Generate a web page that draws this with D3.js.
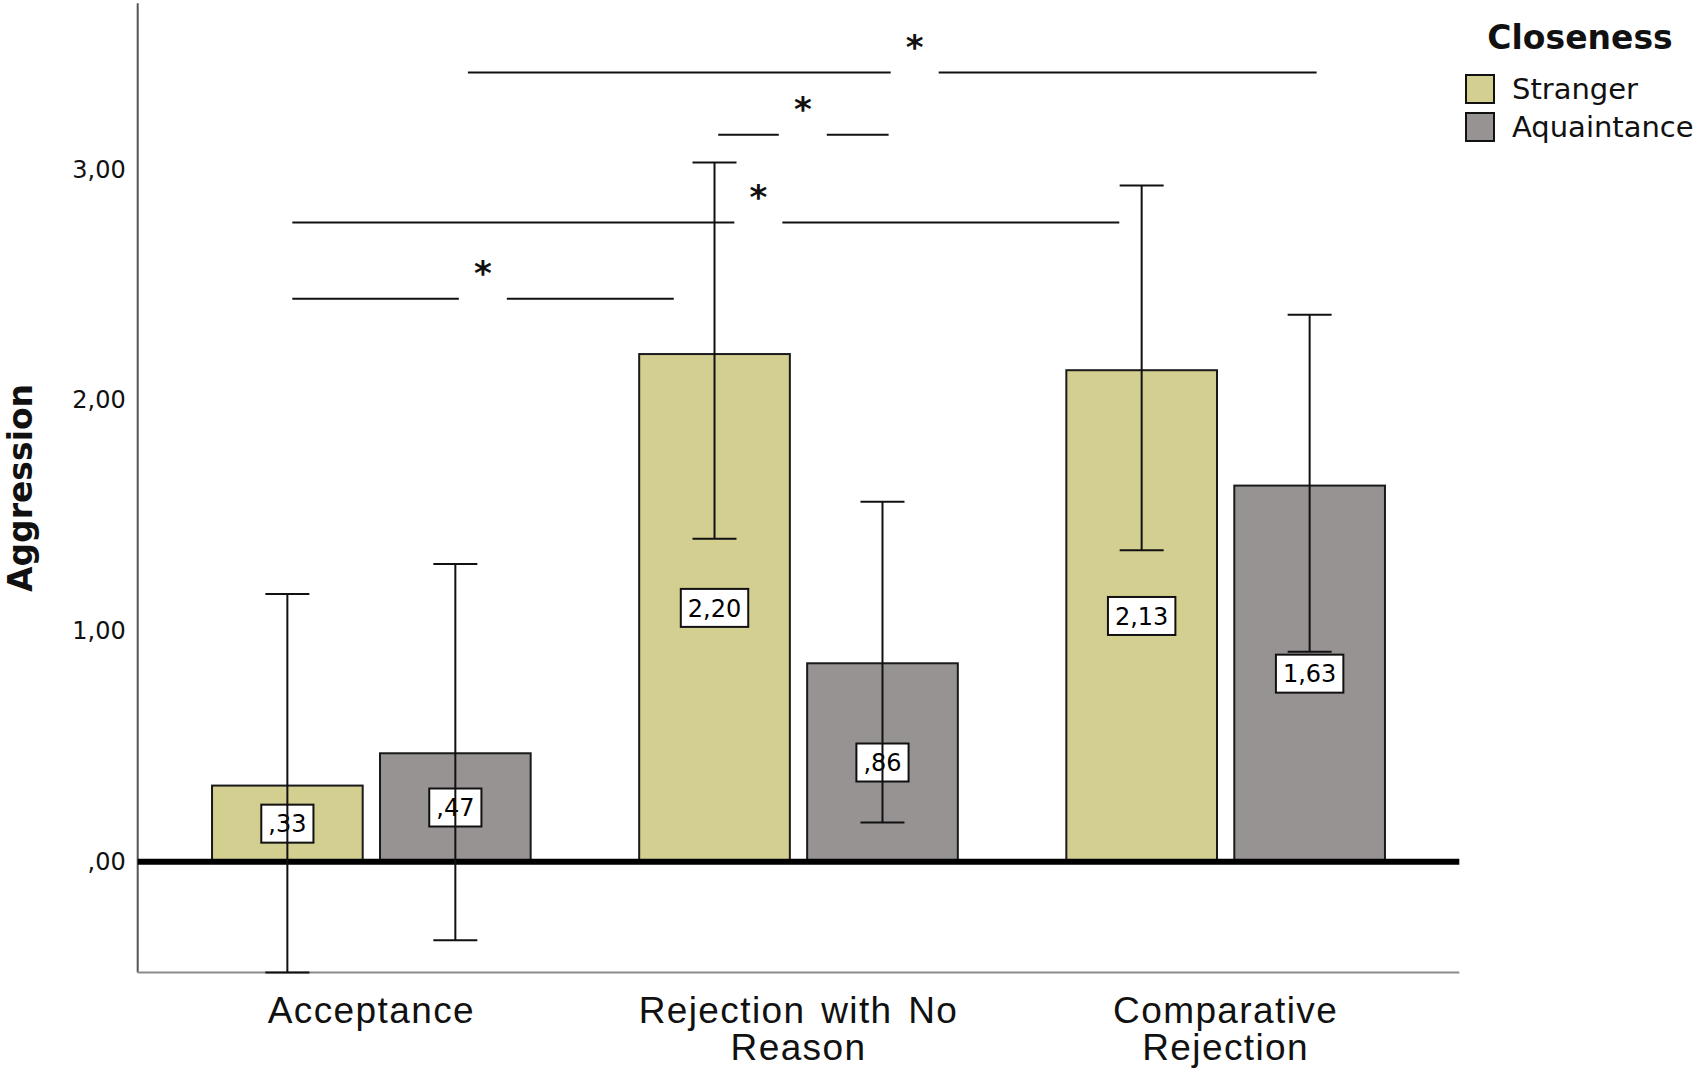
<!DOCTYPE html>
<html>
<head>
<meta charset="utf-8">
<script src="https://cdn.jsdelivr.net/npm/d3@7"></script>
<style>
  html, body { margin: 0; padding: 0; background: #fff; }
  svg { display: block; font-family: "DejaVu Sans", sans-serif; }
</style>
</head>
<body>
<svg id="chart" width="1700" height="1074"></svg>
<script>
// ---- data ----
const categories = ["Acceptance", "Rejection with No Reason", "Comparative Rejection"];
const categoryLines = [["Acceptance"], ["Rejection with No", "Reason"], ["Comparative", "Rejection"]];
const series = ["Stranger", "Aquaintance"];
const strangerMeans = [0.33, 2.20, 2.13];
const aquaintanceMeans = [0.47, 0.86, 1.63];
const strangerLow = [-0.48, 1.40, 1.35];
const strangerHigh = [1.16, 3.03, 2.93];
const aquaintanceLow = [-0.34, 0.17, 0.91];
const aquaintanceHigh = [1.29, 1.56, 2.37];
const yTicks = [0, 1, 2, 3];
// significance brackets: x in category-index units, y in data units
const sigY = [3.42, 3.15, 2.77, 2.44];
const sigX0 = [0.226, 0.812, -0.185, -0.185];
const sigX1 = [2.213, 1.211, 1.751, 0.708];
const sigStar = [1.272, 1.010, 0.906, 0.261];

(function () {
// ---- layout ----
const svg = d3.select("#chart");
const pLeft = 137.7, pRight = 1459.3, pTop = 3.3, pBottom = 972.5;
const colors = { Stranger: "#d3cf91", Aquaintance: "#979393" };
const fmt = v => d3.format(".2f")(v).replace(".", ",").replace(/^0,/, ",").replace(/^-0,/, "-,");

const y = d3.scaleLinear().domain([-0.48, 3.72]).range([pBottom, pTop]);
const x0 = d3.scaleBand().domain(categories).range([pLeft, pRight]).paddingInner(0).paddingOuter(0.047);
const x1 = d3.scaleBand().domain(series).range([0, x0.bandwidth()]).paddingInner(0.103).paddingOuter(0.323);
const xi = d3.scaleLinear().domain([0, 2]).range([x0(categories[0]) + x0.bandwidth() / 2, x0(categories[2]) + x0.bandwidth() / 2]);

const rows = [];
categories.forEach((c, i) => {
  rows.push({ cat: c, s: "Stranger", v: strangerMeans[i], lo: strangerLow[i], hi: strangerHigh[i] });
  rows.push({ cat: c, s: "Aquaintance", v: aquaintanceMeans[i], lo: aquaintanceLow[i], hi: aquaintanceHigh[i] });
});
const cx = d => x0(d.cat) + x1(d.s) + x1.bandwidth() / 2;

// axes lines
svg.append("line").attr("x1", pLeft).attr("x2", pLeft).attr("y1", pTop).attr("y2", pBottom)
  .attr("stroke", "#555").attr("stroke-width", 2);
svg.append("line").attr("x1", pLeft).attr("x2", pRight).attr("y1", pBottom).attr("y2", pBottom)
  .attr("stroke", "#8a8a8a").attr("stroke-width", 2);

// y tick labels
const yAxis = svg.append("g").attr("transform", `translate(${pLeft},0)`)
  .call(d3.axisLeft(y).tickValues(yTicks).tickFormat(fmt).tickSize(0).tickPadding(12));
yAxis.select(".domain").remove();
yAxis.selectAll("text").attr("font-size", 24).attr("font-family", "DejaVu Sans").attr("fill", "#111");

// y title
svg.append("text").attr("transform", `translate(32,488) rotate(-90)`)
  .attr("text-anchor", "middle").attr("font-size", 33).attr("font-weight", "bold").attr("fill", "#111")
  .text("Aggression");

// bars
svg.append("g").selectAll("rect").data(rows).join("rect")
  .attr("x", d => x0(d.cat) + x1(d.s))
  .attr("width", x1.bandwidth())
  .attr("y", d => y(d.v))
  .attr("height", d => y(0) - y(d.v))
  .attr("fill", d => colors[d.s])
  .attr("stroke", "#1a1a1a").attr("stroke-width", 2);

// zero line
svg.append("line").attr("x1", pLeft).attr("x2", pRight).attr("y1", y(0)).attr("y2", y(0))
  .attr("stroke", "#000").attr("stroke-width", 6);

// value labels
const lab = svg.append("g").selectAll("g").data(rows).join("g")
  .attr("transform", d => `translate(${cx(d)},${y(d.v / 2)})`);
lab.append("text").attr("text-anchor", "middle").attr("dy", "0.36em")
  .attr("font-size", 24).attr("fill", "#000").text(d => fmt(d.v))
  .each(function () {
    const bb = this.getBBox();
    d3.select(this.parentNode).insert("rect", "text")
      .attr("x", -bb.width / 2 - 7).attr("width", bb.width + 14)
      .attr("y", -19).attr("height", 38)
      .attr("fill", "#fff").attr("stroke", "#111").attr("stroke-width", 2);
  });

// error bars
const cap = 22;
const eb = svg.append("g").attr("stroke", "#111").attr("stroke-width", 2);
eb.selectAll("line.v").data(rows).join("line").attr("class", "v")
  .attr("x1", cx).attr("x2", cx).attr("y1", d => y(d.lo)).attr("y2", d => y(d.hi));
eb.selectAll("line.t").data(rows).join("line").attr("class", "t")
  .attr("x1", d => cx(d) - cap).attr("x2", d => cx(d) + cap).attr("y1", d => y(d.hi)).attr("y2", d => y(d.hi));
eb.selectAll("line.b").data(rows).join("line").attr("class", "b")
  .attr("x1", d => cx(d) - cap).attr("x2", d => cx(d) + cap).attr("y1", d => y(d.lo)).attr("y2", d => y(d.lo));

// x category labels
const xAxis = svg.append("g").attr("transform", `translate(0,${pBottom})`)
  .call(d3.axisBottom(x0).tickSize(0).tickFormat(""));
xAxis.select(".domain").remove();
xAxis.selectAll(".tick").each(function (d, i) {
  const t = d3.select(this).append("text").attr("text-anchor", "middle")
    .attr("font-size", 37).attr("letter-spacing", 1.4).attr("word-spacing", 4)
    .attr("fill", "#111").attr("y", 50);
  categoryLines[i].forEach((ln, j) => {
    t.append("tspan").attr("x", 0).attr("dy", j === 0 ? 0 : 37.5).text(ln);
  });
});

// significance brackets
const gap = 24;
const sig = svg.append("g");
sigY.forEach((v, i) => {
  const yy = y(v), xs = xi(sigStar[i]);
  sig.append("line").attr("x1", xi(sigX0[i])).attr("x2", xs - gap).attr("y1", yy).attr("y2", yy)
    .attr("stroke", "#111").attr("stroke-width", 2);
  sig.append("line").attr("x1", xs + gap).attr("x2", xi(sigX1[i])).attr("y1", yy).attr("y2", yy)
    .attr("stroke", "#111").attr("stroke-width", 2);
  sig.append("text").attr("x", xs).attr("y", yy - 14).attr("text-anchor", "middle")
    .attr("font-size", 34).attr("font-weight", "bold").attr("fill", "#111").text("*");
});

// legend
const lg = svg.append("g");
lg.append("text").attr("x", 1580).attr("y", 49).attr("text-anchor", "middle")
  .attr("font-size", 33).attr("font-weight", "bold").attr("fill", "#111").text("Closeness");
series.forEach((s, i) => {
  lg.append("rect").attr("x", 1466).attr("y", 75 + i * 38).attr("width", 28).attr("height", 28)
    .attr("fill", colors[s]).attr("stroke", "#111").attr("stroke-width", 2);
  lg.append("text").attr("x", 1512).attr("y", 99 + i * 38).attr("font-size", 29).attr("fill", "#111").text(s);
});
})();
</script>
</body>
</html>
